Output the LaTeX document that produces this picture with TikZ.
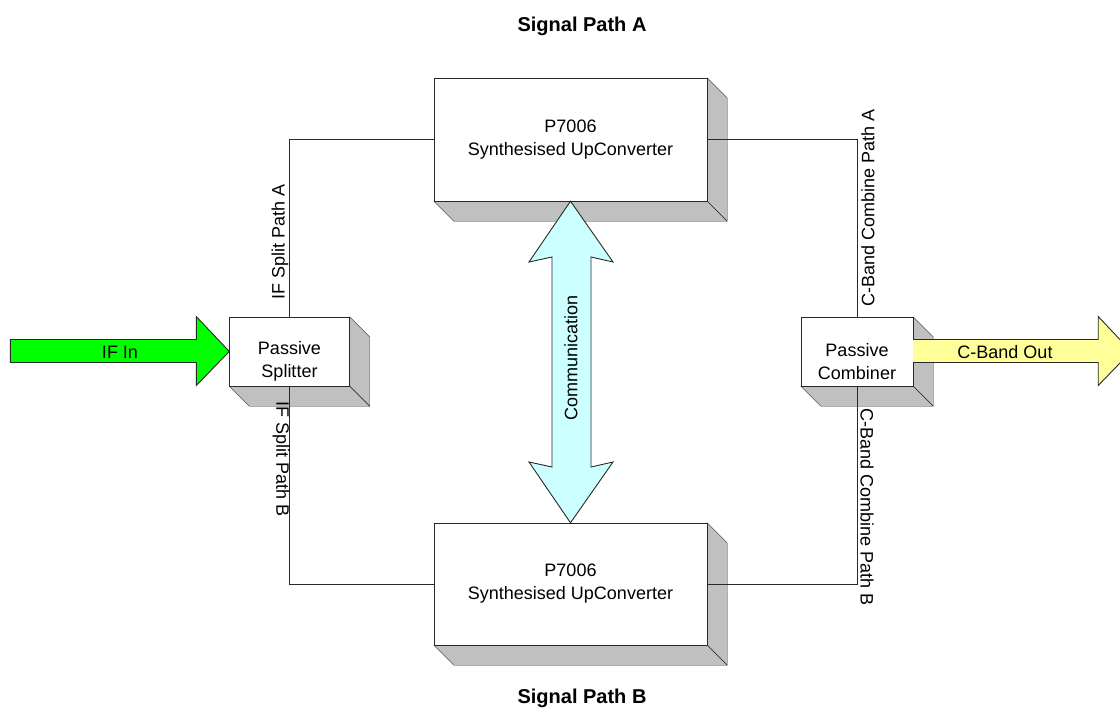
\documentclass[tikz,border=0pt]{standalone}
\usepackage{fontspec}
\setmainfont{Liberation Sans}
\usetikzlibrary{calc}
\definecolor{sidegray}{RGB}{192,192,192}
\definecolor{edge}{RGB}{40,40,40}
\definecolor{ingreen}{RGB}{0,255,0}
\definecolor{outyellow}{RGB}{255,255,153}
\definecolor{commcyan}{RGB}{204,255,255}
\tikzset{
  front/.style={draw=edge, fill=white, inner sep=0pt, align=center, font=\fontsize{18}{23}\selectfont},
  face/.style={draw=edge, fill=sidegray, line join=round},
  wire/.style={draw=edge, line width=0.9pt},
  lbl/.style={font=\fontsize{18}{23}\selectfont, inner sep=0pt},
  title/.style={font=\bfseries\fontsize{20}{24}\selectfont, inner sep=0pt},
  bigarrow/.style={draw=edge, line width=0.9pt, line join=miter}
}
\newcommand\depthfaces[1]{%
  \path[face] (#1.north east) -- ++(20,20) -- ($(#1.south east)+(20,20)$) -- (#1.south east) -- cycle;
  \path[face] (#1.south west) -- ++(20,20) -- ($(#1.south east)+(20,20)$) -- (#1.south east) -- cycle;
}
\begin{document}
\begin{tikzpicture}[x=1pt,y=-1pt]
\useasboundingbox (0,0) rectangle (1120,725);

% titles
\node[title] (tA) at (582,26) {Signal Path A};
\node[title] (tB) at (582,698) {Signal Path B};

% front faces (node geometry)
\path node[front, minimum width=273pt, minimum height=123pt] (top) at (570.5,139.5) {};
\path node[front, minimum width=273pt, minimum height=122pt] (bot) at (570.5,584) {};
\path node[front, minimum width=120pt, minimum height=69pt] (split) at (289.5,351.5) {};
\path node[front, minimum width=112pt, minimum height=69pt] (comb) at (857,351.5) {};

% depth faces
\depthfaces{top}
\depthfaces{bot}
\depthfaces{split}
\depthfaces{comb}

% redraw front faces with text
\node[front, minimum width=273pt, minimum height=123pt] at (top.center) {P7006\\Synthesised UpConverter};
\node[front, minimum width=273pt, minimum height=122pt] at (bot.center) {P7006\\Synthesised UpConverter};
\node[front, minimum width=120pt, minimum height=69pt] at (split.center) {};
\node[front, minimum width=112pt, minimum height=69pt] at (comb.center) {};
\node[lbl, align=center] (splittxt) at ($(split.center)+(0,10)$) {Passive\\Splitter};
\node[lbl, align=center] (combtxt) at ($(comb.center)+(0,10)$) {Passive\\Combiner};

% connectors
\draw[wire] (top.west) -| (split.north);
\draw[wire] (split.south) |- (bot.west);
\draw[wire] (top.east) -| (comb.north);
\draw[wire] (comb.south) |- (bot.east);

% connector labels
\node[lbl, rotate=90, anchor=west] (la) at (280,300) {IF Split Path A};
\node[lbl, rotate=-90, anchor=west] (lb) at (281,401) {IF Split Path B};
\node[lbl, rotate=90, anchor=west] (ra) at (868,307) {C-Band Combine Path A};
\node[lbl, rotate=-90, anchor=west] (rb) at (867,408) {C-Band Combine Path B};

% IF In arrow
\path[bigarrow, fill=ingreen] ($(split.west)+(-219,-12)$) -- ++(186,0) -- ++(0,-23) -- (split.west) -- ++(-33,34) -- ++(0,-23) -- ++(-186,0) -- cycle;
\node[lbl] (ifin) at (120,352) {IF In};

% C-Band Out arrow
\path[bigarrow, fill=outyellow] ($(comb.east)+(0,-12)$) -- ++(185,0) -- ++(0,-23) -- ++(33,35) -- ++(-33,34) -- ++(0,-23) -- ++(-185,0);
\path[fill=outyellow] ($(comb.east)+(0.5,-11.5)$) rectangle ++(3,22);
\node[lbl] (cout) at (1005,352) {C-Band Out};

% Communication double arrow
\path[bigarrow, fill=commcyan] (top.south) -- (613,262) -- (591,257) -- (591,467) -- (613,462) -- (bot.north) -- (529,462) -- (552,467) -- (552,257) -- (529,262) -- cycle;
\node[lbl, rotate=90] (comm) at (571,358) {Communication};
\end{tikzpicture}
\end{document}
